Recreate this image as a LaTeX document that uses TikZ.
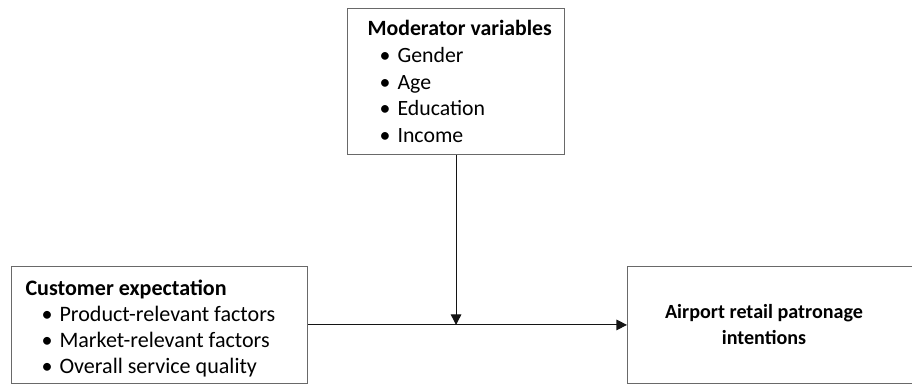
\documentclass[tikz,border=0pt]{standalone}
\usepackage{fontspec}
\setmainfont{Carlito}
\usetikzlibrary{arrows.meta, positioning, calc}
\definecolor{boxgray}{RGB}{105,105,105}
\definecolor{mydark}{RGB}{20,20,20}
\newcommand{\bitem}[2][0.4cm]{\\\hspace*{#1}\makebox[0.45cm][l]{\textbullet}#2}
\newcommand{\natspace}{\spaceskip=0pt\xspaceskip=0pt}
\tikzset{
  box/.style={rectangle, draw=boxgray, fill=white, line width=0.8pt,
    inner ysep=0pt, align=left, font=\fontsize{15.7}{18.4}\selectfont},
  headtext/.style={align=center, font=\fontsize{14.3}{18.4}\selectfont\bfseries},
  arrow/.style={-{Triangle[length=7.5pt,width=7.5pt]}, line width=0.8pt, color=mydark}
}

\begin{document}
\begin{tikzpicture}
  \useasboundingbox (0,0) rectangle (22.8,9.65);

  % Moderator box
  \node[box, anchor=south west, minimum width=5.425cm, minimum height=3.65cm,
    inner xsep=0.5cm, text width=4.425cm, font=\fontsize{15.5}{19.2}\selectfont] (mod) at (8.675,5.775)
    {\natspace\mbox{\textbf{Moderator variables}}\bitem[0.3cm]{Gender}\bitem[0.3cm]{Age}\bitem[0.3cm]{Education}\bitem[0.3cm]{Income}};

  % Customer expectation
  \node[box, anchor=south west, minimum width=7.4cm, minimum height=2.925cm,
    inner xsep=0.35cm, text width=6.7cm] (cust) at (0.275,0.05)
    {\natspace\rule{0pt}{16pt}\textbf{Customer expectation}\bitem{Product-relevant factors}\bitem{Market-relevant factors}\bitem{Overall service quality}};

  % Outcome
  \node[box, anchor=south west, minimum width=7.4cm, minimum height=2.925cm] (intent) at (15.675,0.05) {};
  \node[headtext] (intenttext) at ($(intent.west)+(3.425,0)$) {Airport retail patronage\\intentions};

  % Arrows
  \coordinate (meet) at (mod.south |- cust.east);
  \draw[arrow] (cust.east) -- (intent.west);
  \draw[arrow] (mod.south) -- (meet);
\end{tikzpicture}
\end{document}
